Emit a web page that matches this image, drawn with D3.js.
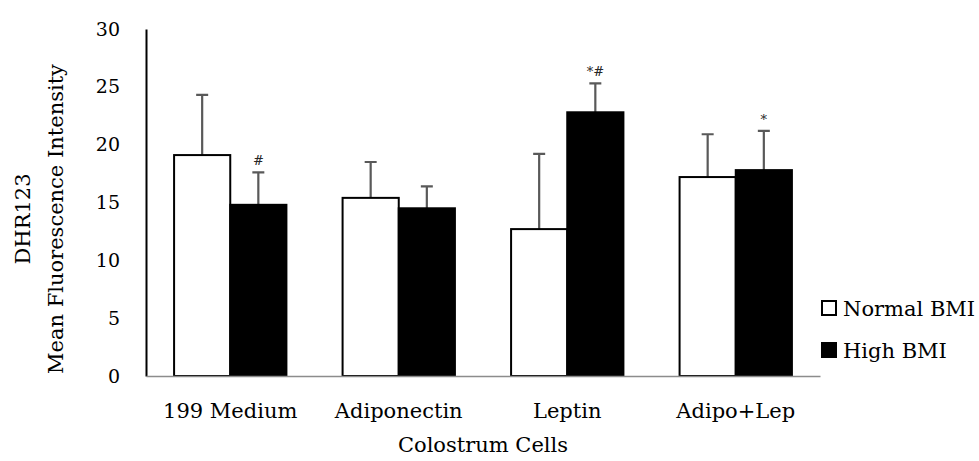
<!DOCTYPE html>
<html>
<head>
<meta charset="utf-8">
<script src="https://cdn.jsdelivr.net/npm/d3@7"></script>
<style>
  body { margin: 0; background: #fff; }
  svg text { font-family: "DejaVu Serif", "Liberation Serif", serif; fill: #000; }
</style>
</head>
<body>
<div id="chart"></div>
<script>
var categories = ["199 Medium", "Adiponectin", "Leptin", "Adipo+Lep"];
var series = ["Normal BMI", "High BMI"];
var normalMean = [19.1, 15.4, 12.7, 17.2];
var normalErr  = [5.2, 3.1, 6.5, 3.7];
var highMean   = [14.8, 14.5, 22.8, 17.8];
var highErr    = [2.8, 1.9, 2.5, 3.4];
var marks      = ["#", "", "*#", "*"];
var yTicks     = [0, 5, 10, 15, 20, 25, 30];

var width = 979, height = 461;
var mLeft = 146, mRight = 820, mTop = 29, mBottom = 376;

var svg = d3.select("#chart").append("svg")
    .attr("width", width)
    .attr("height", height);

var y = d3.scaleLinear().domain([0, 30]).range([mBottom, mTop]);
var x0 = d3.scaleBand().domain(categories).range([mLeft, mRight]);
var x1 = d3.scaleBand().domain(series).range([0, x0.bandwidth()]).paddingOuter(0.5);

var data = categories.map(function(c, i) {
    return {
        cat: c,
        mark: marks[i],
        values: [
            {s: series[0], v: normalMean[i], e: normalErr[i]},
            {s: series[1], v: highMean[i], e: highErr[i]}
        ]
    };
});

// y axis
var yAxis = svg.append("g")
    .attr("transform", "translate(" + mLeft + ",0)")
    .call(d3.axisLeft(y).tickValues(yTicks).tickSize(0).tickPadding(26));
yAxis.select(".domain").attr("stroke", "#000").attr("stroke-width", 2);
yAxis.selectAll("text").style("font-size", "19px");

var g = svg.selectAll(".grp")
    .data(data)
    .enter().append("g")
    .attr("class", "grp")
    .attr("transform", function(d) { return "translate(" + x0(d.cat) + ",0)"; });

// error bars (drawn behind bars)
g.selectAll(".err")
    .data(function(d) { return d.values; })
    .enter().append("path")
    .attr("class", "err")
    .attr("fill", "none")
    .attr("stroke", "#595959")
    .attr("stroke-width", 2.2)
    .attr("d", function(d) {
        var cx = x1(d.s) + x1.bandwidth() / 2;
        var yt = y(d.v + d.e);
        return "M" + cx + "," + y(d.v) + "V" + yt + "M" + (cx - 6) + "," + yt + "H" + (cx + 6);
    });

g.selectAll(".bar")
    .data(function(d) { return d.values; })
    .enter().append("rect")
    .attr("class", "bar")
    .attr("x", function(d) { return x1(d.s); })
    .attr("width", x1.bandwidth())
    .attr("y", function(d) { return y(d.v); })
    .attr("height", function(d) { return y(0) - y(d.v); })
    .attr("fill", function(d) { return d.s === series[0] ? "#fff" : "#000"; })
    .attr("stroke", "#000")
    .attr("stroke-width", 2);

// significance marks above the High BMI error bar
g.append("text")
    .attr("x", x1(series[1]) + x1.bandwidth() / 2)
    .attr("y", function(d) { return y(d.values[1].v + d.values[1].e) - 7; })
    .attr("text-anchor", "middle")
    .style("font-size", "13px")
    .style("fill", "#262626")
    .text(function(d) { return d.mark; });

// x axis
var xAxis = svg.append("g")
    .attr("transform", "translate(0," + mBottom + ")")
    .call(d3.axisBottom(x0).tickSize(0).tickSizeOuter(0).tickPadding(27));
xAxis.select(".domain").attr("stroke", "#8c8c8c").attr("stroke-width", 1.5);
xAxis.selectAll("text").style("font-size", "21px");

// axis titles
svg.append("text")
    .attr("x", (mLeft + mRight) / 2)
    .attr("y", 452)
    .attr("text-anchor", "middle")
    .style("font-size", "21px")
    .text("Colostrum Cells");

var yt = svg.append("text")
    .attr("transform", "translate(0,219) rotate(-90)")
    .attr("text-anchor", "middle")
    .style("font-size", "21px");
yt.append("tspan").attr("x", 0).attr("y", 30).text("DHR123");
yt.append("tspan").attr("x", 0).attr("y", 63).text("Mean Fluorescence Intensity");

// legend
var leg = svg.selectAll(".leg")
    .data(series)
    .enter().append("g")
    .attr("class", "leg")
    .attr("transform", function(d, i) { return "translate(822," + (301 + i * 42) + ")"; });
leg.append("rect")
    .attr("width", 14).attr("height", 14)
    .attr("fill", function(d, i) { return i === 0 ? "#fff" : "#000"; })
    .attr("stroke", "#000")
    .attr("stroke-width", 2);
leg.append("text")
    .attr("x", 21)
    .attr("y", 15)
    .style("font-size", "21px")
    .text(function(d) { return d; });
</script>
</body>
</html>
